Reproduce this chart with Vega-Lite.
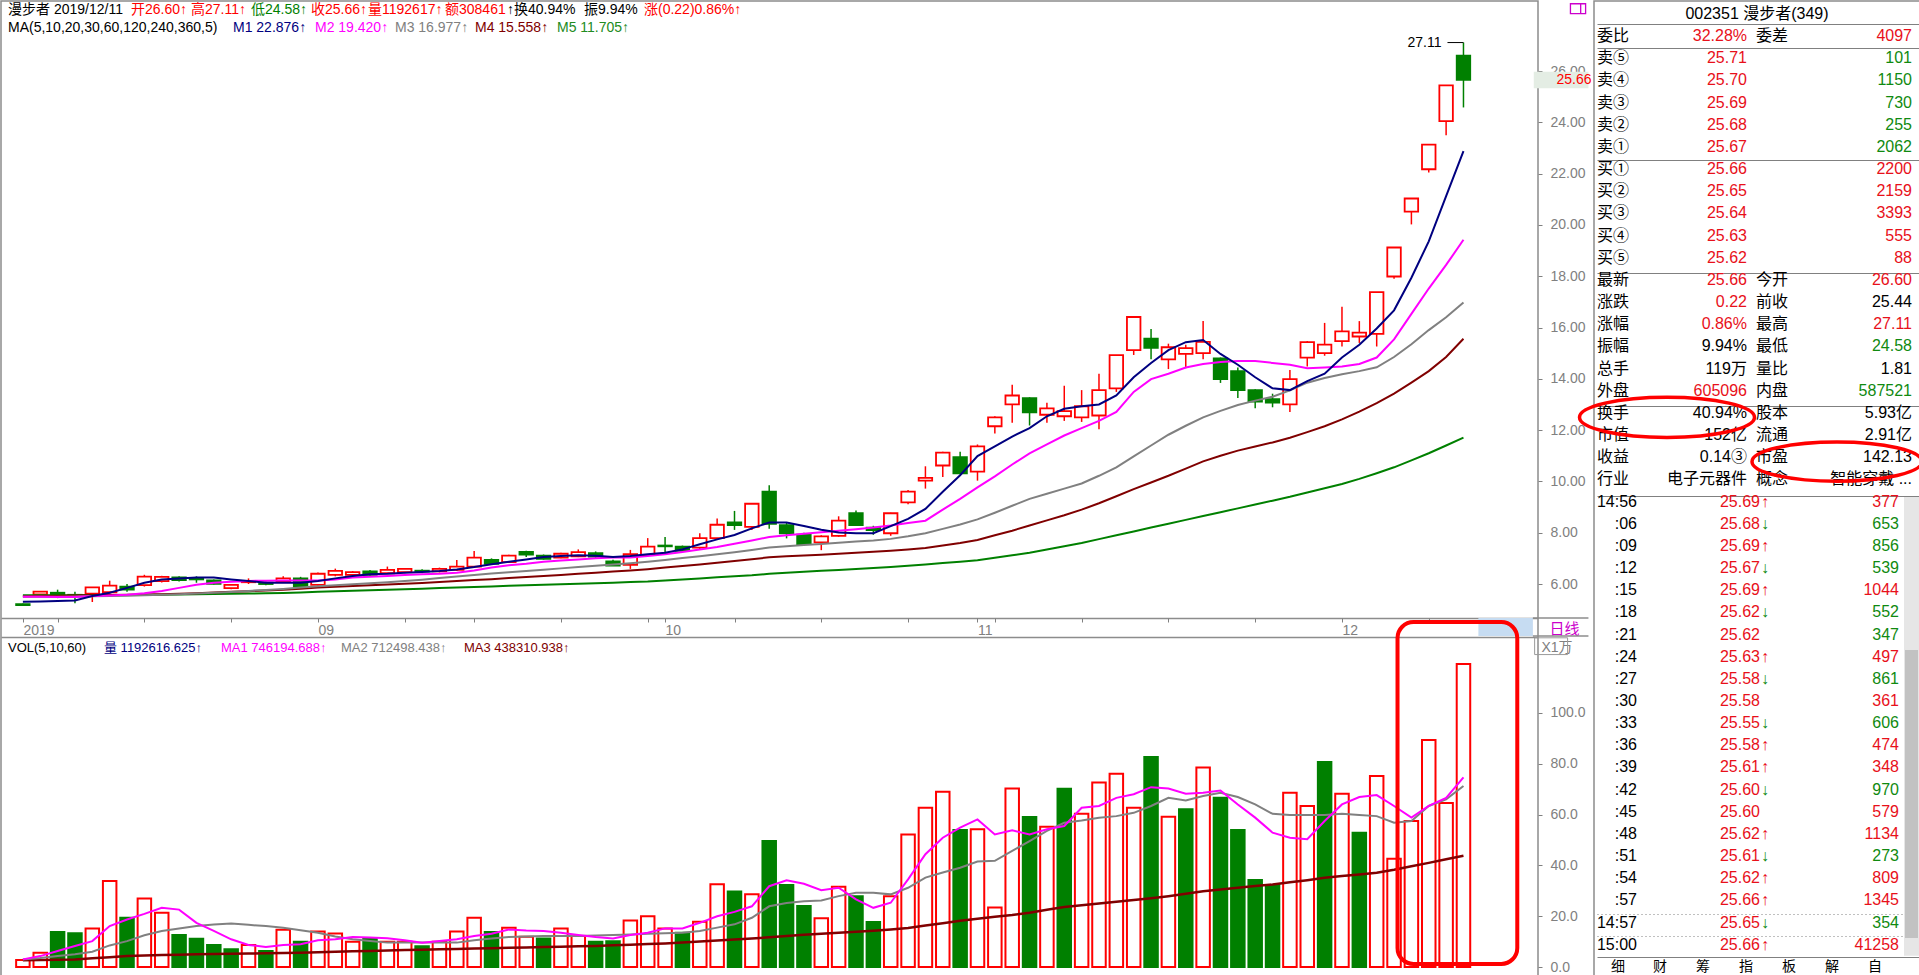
{
"$schema": "https://vega.github.io/schema/vega-lite/v6.json",
"padding": 0,
"background": "white",
"config": {"view": {"stroke": "#8c8c8c", "strokeWidth": 1.5}, "text": {"font": "Liberation Sans, Noto Sans CJK SC, sans-serif"}},
"datasets": {
"k": [
{"i":0,"d":"2019-08-08","o":5.22,"h":5.24,"l":5.15,"c":5.18,"u":"dn","v":2.8,"vu":"up","m5":5.31,"m10":5.50,"m20":5.50,"m30":5.52,"m60":5.56,"v5":3.0,"v10":3.0,"v60":2.7},
{"i":1,"d":"2019-08-09","o":5.60,"h":5.72,"l":5.55,"c":5.70,"u":"up","v":5.6,"vu":"up","m5":5.32,"m10":5.50,"m20":5.50,"m30":5.53,"m60":5.56,"v5":4.3,"v10":3.5,"v60":2.8},
{"i":2,"d":"2019-08-12","o":5.66,"h":5.78,"l":5.45,"c":5.60,"u":"dn","v":13.8,"vu":"dn","m5":5.34,"m10":5.49,"m20":5.50,"m30":5.54,"m60":5.56,"v5":6.3,"v10":4.3,"v60":2.9},
{"i":3,"d":"2019-08-13","o":5.58,"h":5.70,"l":5.25,"c":5.52,"u":"dn","v":13.3,"vu":"dn","m5":5.36,"m10":5.49,"m20":5.51,"m30":5.55,"m60":5.56,"v5":8.3,"v10":5.0,"v60":3.0},
{"i":4,"d":"2019-08-14","o":5.62,"h":5.87,"l":5.30,"c":5.87,"u":"up","v":15.2,"vu":"up","m5":5.53,"m10":5.53,"m20":5.52,"m30":5.56,"m60":5.57,"v5":10.2,"v10":6.0,"v60":3.4},
{"i":5,"d":"2019-08-15","o":5.68,"h":6.13,"l":5.62,"c":5.94,"u":"up","v":33.9,"vu":"up","m5":5.66,"m10":5.55,"m20":5.53,"m30":5.57,"m60":5.57,"v5":16.1,"v10":8.5,"v60":3.8},
{"i":6,"d":"2019-08-16","o":5.90,"h":6.00,"l":5.70,"c":5.78,"u":"dn","v":19.4,"vu":"dn","m5":5.85,"m10":5.58,"m20":5.54,"m30":5.58,"m60":5.57,"v5":18.7,"v10":10.2,"v60":4.3},
{"i":7,"d":"2019-08-19","o":5.96,"h":6.36,"l":5.90,"c":6.29,"u":"up","v":27.0,"vu":"up","m5":6.05,"m10":5.64,"m20":5.56,"m30":5.59,"m60":5.58,"v5":20.9,"v10":12.5,"v60":4.5},
{"i":8,"d":"2019-08-20","o":6.11,"h":6.32,"l":6.06,"c":6.28,"u":"up","v":21.4,"vu":"up","m5":6.18,"m10":5.73,"m20":5.58,"m30":5.60,"m60":5.58,"v5":23.3,"v10":14.2,"v60":4.7},
{"i":9,"d":"2019-08-21","o":6.26,"h":6.30,"l":6.10,"c":6.15,"u":"dn","v":12.6,"vu":"dn","m5":6.22,"m10":5.85,"m20":5.60,"m30":5.62,"m60":5.59,"v5":22.6,"v10":15.2,"v60":4.8},
{"i":10,"d":"2019-08-22","o":6.22,"h":6.30,"l":6.05,"c":6.18,"u":"dn","v":11.1,"vu":"dn","m5":6.25,"m10":5.97,"m20":5.63,"m30":5.64,"m60":5.60,"v5":17.4,"v10":16.1,"v60":5.0},
{"i":11,"d":"2019-08-23","o":6.14,"h":6.18,"l":5.98,"c":6.01,"u":"dn","v":8.7,"vu":"dn","m5":6.25,"m10":6.05,"m20":5.66,"m30":5.67,"m60":5.61,"v5":14.2,"v10":16.7,"v60":5.1},
{"i":12,"d":"2019-08-26","o":5.84,"h":6.00,"l":5.80,"c":5.97,"u":"up","v":7.0,"vu":"dn","m5":6.18,"m10":6.09,"m20":5.69,"m30":5.70,"m60":5.62,"v5":10.9,"v10":17.1,"v60":5.2},
{"i":13,"d":"2019-08-27","o":6.07,"h":6.22,"l":6.00,"c":6.11,"u":"up","v":8.7,"vu":"up","m5":6.12,"m10":6.12,"m20":5.73,"m30":5.72,"m60":5.63,"v5":8.7,"v10":16.6,"v60":5.3},
{"i":14,"d":"2019-08-28","o":6.05,"h":6.10,"l":5.95,"c":6.00,"u":"dn","v":6.3,"vu":"dn","m5":6.05,"m10":6.13,"m20":5.77,"m30":5.75,"m60":5.64,"v5":7.9,"v10":16.1,"v60":5.4},
{"i":15,"d":"2019-08-29","o":6.09,"h":6.30,"l":6.05,"c":6.22,"u":"up","v":14.7,"vu":"up","m5":6.05,"m10":6.14,"m20":5.81,"m30":5.78,"m60":5.65,"v5":8.7,"v10":15.5,"v60":5.5},
{"i":16,"d":"2019-08-30","o":6.22,"h":6.28,"l":5.87,"c":5.90,"u":"dn","v":9.9,"vu":"dn","m5":6.05,"m10":6.14,"m20":5.86,"m30":5.82,"m60":5.67,"v5":9.0,"v10":14.5,"v60":5.6},
{"i":17,"d":"2019-09-02","o":5.97,"h":6.45,"l":5.90,"c":6.40,"u":"up","v":14.0,"vu":"up","m5":6.12,"m10":6.14,"m20":5.91,"m30":5.86,"m60":5.70,"v5":10.5,"v10":13.5,"v60":5.8},
{"i":18,"d":"2019-09-03","o":6.36,"h":6.60,"l":6.30,"c":6.51,"u":"up","v":13.2,"vu":"up","m5":6.22,"m10":6.18,"m20":5.95,"m30":5.89,"m60":5.72,"v5":10.9,"v10":12.0,"v60":6.0},
{"i":19,"d":"2019-09-04","o":6.36,"h":6.50,"l":6.32,"c":6.46,"u":"up","v":9.9,"vu":"up","m5":6.31,"m10":6.25,"m20":5.99,"m30":5.92,"m60":5.74,"v5":11.8,"v10":10.9,"v60":6.2},
{"i":20,"d":"2019-09-05","o":6.49,"h":6.55,"l":6.30,"c":6.36,"u":"dn","v":11.0,"vu":"dn","m5":6.38,"m10":6.28,"m20":6.03,"m30":5.95,"m60":5.76,"v5":11.6,"v10":10.2,"v60":6.3},
{"i":21,"d":"2019-09-06","o":6.42,"h":6.68,"l":6.40,"c":6.55,"u":"up","v":9.9,"vu":"up","m5":6.40,"m10":6.31,"m20":6.07,"m30":5.98,"m60":5.78,"v5":11.3,"v10":9.6,"v60":6.5},
{"i":22,"d":"2019-09-09","o":6.46,"h":6.62,"l":6.42,"c":6.59,"u":"up","v":9.9,"vu":"up","m5":6.44,"m10":6.35,"m20":6.12,"m30":6.01,"m60":5.80,"v5":10.5,"v10":9.6,"v60":6.7},
{"i":23,"d":"2019-09-10","o":6.52,"h":6.58,"l":6.42,"c":6.49,"u":"dn","v":8.2,"vu":"dn","m5":6.47,"m10":6.38,"m20":6.17,"m30":6.04,"m60":5.82,"v5":9.6,"v10":9.6,"v60":6.8},
{"i":24,"d":"2019-09-11","o":6.49,"h":6.64,"l":6.45,"c":6.59,"u":"up","v":9.9,"vu":"up","m5":6.51,"m10":6.40,"m20":6.23,"m30":6.08,"m60":5.84,"v5":10.2,"v10":9.6,"v60":7.0},
{"i":25,"d":"2019-09-12","o":6.55,"h":6.94,"l":6.51,"c":6.68,"u":"up","v":14.0,"vu":"up","m5":6.57,"m10":6.44,"m20":6.29,"m30":6.12,"m60":5.86,"v5":10.9,"v10":9.6,"v60":7.1},
{"i":26,"d":"2019-09-16","o":6.68,"h":7.29,"l":6.64,"c":7.03,"u":"up","v":19.4,"vu":"up","m5":6.66,"m10":6.53,"m20":6.35,"m30":6.16,"m60":5.88,"v5":12.2,"v10":10.5,"v60":7.3},
{"i":27,"d":"2019-09-17","o":6.94,"h":7.00,"l":6.75,"c":6.79,"u":"dn","v":13.8,"vu":"dn","m5":6.77,"m10":6.64,"m20":6.41,"m30":6.19,"m60":5.90,"v5":13.1,"v10":11.2,"v60":7.4},
{"i":28,"d":"2019-09-18","o":6.85,"h":7.14,"l":6.82,"c":7.11,"u":"up","v":15.5,"vu":"up","m5":6.87,"m10":6.73,"m20":6.46,"m30":6.23,"m60":5.93,"v5":14.8,"v10":11.8,"v60":7.55},
{"i":29,"d":"2019-09-19","o":7.25,"h":7.30,"l":7.05,"c":7.15,"u":"dn","v":11.9,"vu":"up","m5":6.96,"m10":6.79,"m20":6.51,"m30":6.27,"m60":5.95,"v5":14.4,"v10":12.0,"v60":7.7},
{"i":30,"d":"2019-09-20","o":7.11,"h":7.15,"l":6.95,"c":6.98,"u":"dn","v":11.2,"vu":"dn","m5":7.05,"m10":6.87,"m20":6.56,"m30":6.31,"m60":5.97,"v5":14.2,"v10":12.2,"v60":7.85},
{"i":31,"d":"2019-09-23","o":7.03,"h":7.22,"l":7.00,"c":7.18,"u":"up","v":15.2,"vu":"up","m5":7.09,"m10":6.92,"m20":6.61,"m30":6.35,"m60":5.99,"v5":13.5,"v10":12.2,"v60":8.0},
{"i":32,"d":"2019-09-24","o":7.08,"h":7.35,"l":7.05,"c":7.24,"u":"up","v":12.2,"vu":"up","m5":7.12,"m10":6.96,"m20":6.66,"m30":6.40,"m60":6.01,"v5":12.6,"v10":12.2,"v60":8.15},
{"i":33,"d":"2019-09-25","o":7.20,"h":7.27,"l":7.02,"c":7.07,"u":"dn","v":9.9,"vu":"dn","m5":7.10,"m10":7.00,"m20":6.71,"m30":6.44,"m60":6.03,"v5":11.8,"v10":12.4,"v60":8.3},
{"i":34,"d":"2019-09-26","o":6.88,"h":6.95,"l":6.70,"c":6.72,"u":"dn","v":10.1,"vu":"dn","m5":7.05,"m10":7.03,"m20":6.76,"m30":6.49,"m60":6.05,"v5":11.2,"v10":12.6,"v60":8.55},
{"i":35,"d":"2019-09-27","o":6.75,"h":7.33,"l":6.59,"c":7.16,"u":"up","v":18.3,"vu":"up","m5":7.09,"m10":7.03,"m20":6.81,"m30":6.53,"m60":6.08,"v5":12.6,"v10":12.8,"v60":8.8},
{"i":36,"d":"2019-09-30","o":7.14,"h":7.79,"l":7.10,"c":7.46,"u":"up","v":20.0,"vu":"up","m5":7.16,"m10":7.09,"m20":6.87,"m30":6.58,"m60":6.10,"v5":13.5,"v10":13.1,"v60":9.05},
{"i":37,"d":"2019-10-08","o":7.50,"h":7.83,"l":7.20,"c":7.47,"u":"dn","v":15.2,"vu":"up","m5":7.22,"m10":7.16,"m20":6.94,"m30":6.64,"m60":6.14,"v5":15.2,"v10":13.3,"v60":9.3},
{"i":38,"d":"2019-10-09","o":7.46,"h":7.50,"l":7.25,"c":7.29,"u":"dn","v":13.5,"vu":"dn","m5":7.35,"m10":7.25,"m20":7.01,"m30":6.70,"m60":6.18,"v5":15.2,"v10":13.5,"v60":9.6},
{"i":39,"d":"2019-10-10","o":7.42,"h":7.98,"l":7.33,"c":7.79,"u":"up","v":17.8,"vu":"up","m5":7.55,"m10":7.35,"m20":7.08,"m30":6.76,"m60":6.22,"v5":17.4,"v10":14.2,"v60":10.0},
{"i":40,"d":"2019-10-11","o":7.79,"h":8.55,"l":7.72,"c":8.31,"u":"up","v":32.6,"vu":"up","m5":7.74,"m10":7.44,"m20":7.16,"m30":6.83,"m60":6.26,"v5":20.0,"v10":15.5,"v60":10.4},
{"i":41,"d":"2019-10-14","o":8.40,"h":8.85,"l":8.11,"c":8.30,"u":"dn","v":29.7,"vu":"dn","m5":7.91,"m10":7.57,"m20":7.24,"m30":6.90,"m60":6.30,"v5":21.7,"v10":16.8,"v60":10.8},
{"i":42,"d":"2019-10-15","o":8.23,"h":9.13,"l":8.11,"c":9.13,"u":"up","v":28.6,"vu":"up","m5":8.17,"m10":7.70,"m20":7.33,"m30":6.97,"m60":6.34,"v5":23.9,"v10":19.4,"v60":11.2},
{"i":43,"d":"2019-10-16","o":9.60,"h":9.85,"l":8.15,"c":8.35,"u":"dn","v":49.6,"vu":"dn","m5":8.40,"m10":7.83,"m20":7.42,"m30":7.04,"m60":6.40,"v5":31.8,"v10":23.9,"v60":11.7},
{"i":44,"d":"2019-10-17","o":8.30,"h":8.40,"l":7.78,"c":7.98,"u":"dn","v":32.3,"vu":"dn","m5":8.40,"m10":7.90,"m20":7.47,"m30":7.08,"m60":6.44,"v5":34.1,"v10":25.2,"v60":12.2},
{"i":45,"d":"2019-10-18","o":7.92,"h":8.00,"l":7.52,"c":7.56,"u":"dn","v":24.0,"vu":"dn","m5":8.26,"m10":7.96,"m20":7.52,"m30":7.11,"m60":6.48,"v5":32.8,"v10":25.9,"v60":12.7},
{"i":46,"d":"2019-10-21","o":7.62,"h":7.90,"l":7.32,"c":7.86,"u":"up","v":19.2,"vu":"up","m5":8.12,"m10":8.02,"m20":7.56,"m30":7.14,"m60":6.52,"v5":30.2,"v10":26.2,"v60":13.1},
{"i":47,"d":"2019-10-22","o":7.88,"h":8.64,"l":7.84,"c":8.47,"u":"up","v":31.6,"vu":"up","m5":8.01,"m10":8.08,"m20":7.61,"m30":7.18,"m60":6.55,"v5":31.2,"v10":27.9,"v60":13.5},
{"i":48,"d":"2019-10-23","o":8.76,"h":8.87,"l":8.26,"c":8.30,"u":"dn","v":27.9,"vu":"dn","m5":7.98,"m10":8.14,"m20":7.66,"m30":7.22,"m60":6.59,"v5":26.6,"v10":29.2,"v60":13.9},
{"i":49,"d":"2019-10-24","o":8.20,"h":8.27,"l":7.92,"c":8.10,"u":"dn","v":17.7,"vu":"dn","m5":7.98,"m10":8.20,"m20":7.70,"m30":7.26,"m60":6.62,"v5":23.3,"v10":29.2,"v60":14.3},
{"i":50,"d":"2019-10-25","o":7.98,"h":8.78,"l":7.88,"c":8.76,"u":"up","v":27.9,"vu":"up","m5":8.26,"m10":8.28,"m20":7.76,"m30":7.30,"m60":6.66,"v5":25.3,"v10":28.6,"v60":14.8},
{"i":51,"d":"2019-10-28","o":9.18,"h":9.67,"l":9.11,"c":9.60,"u":"up","v":52.2,"vu":"up","m5":8.54,"m10":8.38,"m20":7.86,"m30":7.35,"m60":6.71,"v5":34.5,"v10":31.2,"v60":15.4},
{"i":52,"d":"2019-10-29","o":10.03,"h":10.59,"l":9.72,"c":10.14,"u":"up","v":62.7,"vu":"up","m5":8.93,"m10":8.47,"m20":7.98,"m30":7.40,"m60":6.76,"v5":44.4,"v10":35.2,"v60":16.3},
{"i":53,"d":"2019-10-30","o":10.62,"h":11.16,"l":10.17,"c":11.12,"u":"up","v":69.0,"vu":"up","m5":9.60,"m10":8.90,"m20":8.15,"m30":7.50,"m60":6.82,"v5":50.9,"v10":37.2,"v60":17.2},
{"i":54,"d":"2019-10-31","o":10.95,"h":11.16,"l":10.28,"c":10.31,"u":"dn","v":53.9,"vu":"dn","m5":10.24,"m10":9.32,"m20":8.32,"m30":7.60,"m60":6.87,"v5":54.9,"v10":39.1,"v60":18.2},
{"i":55,"d":"2019-11-01","o":10.38,"h":11.44,"l":10.03,"c":11.37,"u":"up","v":54.2,"vu":"up","m5":10.99,"m10":9.77,"m20":8.52,"m30":7.72,"m60":6.93,"v5":58.1,"v10":41.5,"v60":19.0},
{"i":56,"d":"2019-11-04","o":12.15,"h":12.54,"l":11.87,"c":12.50,"u":"up","v":23.4,"vu":"up","m5":11.37,"m10":10.20,"m20":8.78,"m30":7.90,"m60":7.02,"v5":52.2,"v10":41.8,"v60":19.8},
{"i":57,"d":"2019-11-05","o":13.00,"h":13.77,"l":12.29,"c":13.35,"u":"up","v":70.3,"vu":"up","m5":11.75,"m10":10.66,"m20":9.05,"m30":8.08,"m60":7.12,"v5":53.8,"v10":45.7,"v60":20.5},
{"i":58,"d":"2019-11-06","o":13.25,"h":13.28,"l":12.18,"c":12.69,"u":"dn","v":59.1,"vu":"dn","m5":12.08,"m10":11.09,"m20":9.32,"m30":8.28,"m60":7.22,"v5":52.2,"v10":49.6,"v60":21.4},
{"i":59,"d":"2019-11-07","o":12.60,"h":13.07,"l":12.29,"c":12.85,"u":"up","v":55.2,"vu":"up","m5":12.54,"m10":11.44,"m20":9.52,"m30":8.48,"m60":7.35,"v5":54.2,"v10":53.6,"v60":22.5},
{"i":60,"d":"2019-11-08","o":12.54,"h":13.73,"l":12.36,"c":12.74,"u":"up","v":70.2,"vu":"dn","m5":12.83,"m10":11.79,"m20":9.72,"m30":8.68,"m60":7.47,"v5":55.5,"v10":56.8,"v60":23.6},
{"i":61,"d":"2019-11-11","o":12.50,"h":13.56,"l":12.32,"c":12.93,"u":"up","v":60.3,"vu":"up","m5":12.93,"m10":12.08,"m20":9.92,"m30":8.90,"m60":7.60,"v5":62.7,"v10":57.7,"v60":24.3},
{"i":62,"d":"2019-11-12","o":12.57,"h":14.20,"l":12.03,"c":13.56,"u":"up","v":72.6,"vu":"up","m5":13.00,"m10":12.36,"m20":10.22,"m30":9.15,"m60":7.75,"v5":63.4,"v10":58.8,"v60":25.0},
{"i":63,"d":"2019-11-13","o":13.63,"h":14.92,"l":13.49,"c":14.92,"u":"up","v":76.1,"vu":"up","m5":13.35,"m10":12.71,"m20":10.55,"m30":9.42,"m60":7.90,"v5":66.6,"v10":59.4,"v60":25.7},
{"i":64,"d":"2019-11-14","o":15.12,"h":16.41,"l":14.93,"c":16.41,"u":"up","v":62.7,"vu":"up","m5":14.06,"m10":13.49,"m20":10.98,"m30":9.70,"m60":8.05,"v5":68.0,"v10":60.7,"v60":26.4},
{"i":65,"d":"2019-11-15","o":15.57,"h":15.94,"l":14.76,"c":15.21,"u":"dn","v":82.7,"vu":"dn","m5":14.62,"m10":13.99,"m20":11.40,"m30":9.96,"m60":8.20,"v5":70.8,"v10":63.4,"v60":27.1},
{"i":66,"d":"2019-11-18","o":14.76,"h":15.37,"l":14.38,"c":15.23,"u":"up","v":59.2,"vu":"up","m5":15.12,"m10":14.20,"m20":11.82,"m30":10.22,"m60":8.35,"v5":70.3,"v10":66.6,"v60":27.9},
{"i":67,"d":"2019-11-19","o":14.97,"h":15.33,"l":14.41,"c":15.20,"u":"up","v":62.1,"vu":"dn","m5":15.43,"m10":14.44,"m20":12.17,"m30":10.50,"m60":8.50,"v5":68.2,"v10":65.6,"v60":28.8},
{"i":68,"d":"2019-11-20","o":15.00,"h":16.25,"l":14.76,"c":15.44,"u":"up","v":78.5,"vu":"up","m5":15.51,"m10":14.58,"m20":12.50,"m30":10.78,"m60":8.65,"v5":68.6,"v10":67.3,"v60":29.8},
{"i":69,"d":"2019-11-21","o":14.80,"h":14.83,"l":13.84,"c":13.99,"u":"dn","v":66.6,"vu":"dn","m5":14.97,"m10":14.66,"m20":12.75,"m30":11.00,"m60":8.80,"v5":69.5,"v10":68.6,"v60":30.5},
{"i":70,"d":"2019-11-22","o":14.30,"h":14.44,"l":13.25,"c":13.56,"u":"dn","v":53.9,"vu":"dn","m5":14.55,"m10":14.69,"m20":12.98,"m30":11.20,"m60":8.95,"v5":64.0,"v10":66.9,"v60":31.2},
{"i":71,"d":"2019-11-25","o":13.56,"h":13.59,"l":12.85,"c":13.11,"u":"dn","v":34.3,"vu":"dn","m5":14.06,"m10":14.69,"m20":13.15,"m30":11.36,"m60":9.10,"v5":58.8,"v10":64.0,"v60":31.9},
{"i":72,"d":"2019-11-26","o":13.21,"h":13.42,"l":12.89,"c":13.07,"u":"dn","v":32.3,"vu":"dn","m5":13.63,"m10":14.62,"m20":13.30,"m30":11.52,"m60":9.25,"v5":52.9,"v10":60.3,"v60":32.5},
{"i":73,"d":"2019-11-27","o":13.00,"h":14.34,"l":12.71,"c":13.99,"u":"up","v":68.6,"vu":"up","m5":13.56,"m10":14.55,"m20":13.55,"m30":11.70,"m60":9.40,"v5":50.9,"v10":59.8,"v60":33.4},
{"i":74,"d":"2019-11-28","o":14.83,"h":15.47,"l":14.48,"c":15.43,"u":"up","v":63.4,"vu":"up","m5":13.91,"m10":14.41,"m20":13.85,"m30":11.92,"m60":9.57,"v5":50.3,"v10":59.8,"v60":34.2},
{"i":75,"d":"2019-11-29","o":15.00,"h":16.18,"l":14.90,"c":15.33,"u":"up","v":80.7,"vu":"dn","m5":14.20,"m10":14.44,"m20":14.03,"m30":12.15,"m60":9.73,"v5":57.5,"v10":59.8,"v60":35.1},
{"i":76,"d":"2019-12-02","o":15.47,"h":16.81,"l":15.26,"c":15.85,"u":"up","v":68.2,"vu":"up","m5":14.83,"m10":14.48,"m20":14.18,"m30":12.42,"m60":9.90,"v5":64.0,"v10":60.3,"v60":35.8},
{"i":77,"d":"2019-12-03","o":15.65,"h":16.25,"l":15.40,"c":15.80,"u":"up","v":52.9,"vu":"dn","m5":15.33,"m10":14.58,"m20":14.30,"m30":12.72,"m60":10.10,"v5":66.9,"v10":59.8,"v60":36.4},
{"i":78,"d":"2019-12-04","o":15.75,"h":17.38,"l":15.26,"c":17.38,"u":"up","v":75.2,"vu":"up","m5":15.96,"m10":14.83,"m20":14.45,"m30":13.05,"m60":10.32,"v5":67.7,"v10":59.4,"v60":37.1},
{"i":79,"d":"2019-12-05","o":17.99,"h":19.12,"l":17.90,"c":19.12,"u":"up","v":42.6,"vu":"up","m5":16.67,"m10":15.54,"m20":14.85,"m30":13.42,"m60":10.55,"v5":63.4,"v10":56.8,"v60":38.3},
{"i":80,"d":"2019-12-06","o":20.52,"h":21.03,"l":20.02,"c":21.03,"u":"up","v":57.5,"vu":"up","m5":17.94,"m10":16.53,"m20":15.35,"m30":13.85,"m60":10.82,"v5":58.8,"v10":57.5,"v60":39.7},
{"i":81,"d":"2019-12-09","o":22.17,"h":23.13,"l":22.04,"c":23.13,"u":"up","v":89.4,"vu":"up","m5":19.36,"m10":17.52,"m20":15.90,"m30":14.30,"m60":11.10,"v5":63.4,"v10":63.4,"v60":41.0},
{"i":82,"d":"2019-12-10","o":24.05,"h":25.44,"l":23.50,"c":25.44,"u":"up","v":64.6,"vu":"up","m5":21.12,"m10":18.44,"m20":16.40,"m30":14.85,"m60":11.40,"v5":66.6,"v10":66.0,"v60":42.4},
{"i":83,"d":"2019-12-11","o":26.60,"h":27.11,"l":24.58,"c":25.66,"u":"dn","v":119.26,"vu":"up","m5":22.88,"m10":19.42,"m20":16.98,"m30":15.56,"m60":11.71,"v5":74.62,"v10":71.25,"v60":43.83}
],
"panel": [
{"r":0,"c":8,"t":"002351 漫步者(349)","k":"b"},
{"r":1,"c":0,"t":"委比","k":"b"},{"r":1,"c":1,"t":"32.28%","k":"r"},{"r":1,"c":2,"t":"委差","k":"b"},{"r":1,"c":3,"t":"4097","k":"r"},
{"r":2,"c":0,"t":"卖⑤","k":"b"},{"r":2,"c":1,"t":"25.71","k":"r"},{"r":2,"c":3,"t":"101","k":"g"},
{"r":3,"c":0,"t":"卖④","k":"b"},{"r":3,"c":1,"t":"25.70","k":"r"},{"r":3,"c":3,"t":"1150","k":"g"},
{"r":4,"c":0,"t":"卖③","k":"b"},{"r":4,"c":1,"t":"25.69","k":"r"},{"r":4,"c":3,"t":"730","k":"g"},
{"r":5,"c":0,"t":"卖②","k":"b"},{"r":5,"c":1,"t":"25.68","k":"r"},{"r":5,"c":3,"t":"255","k":"g"},
{"r":6,"c":0,"t":"卖①","k":"b"},{"r":6,"c":1,"t":"25.67","k":"r"},{"r":6,"c":3,"t":"2062","k":"g"},
{"r":7,"c":0,"t":"买①","k":"b"},{"r":7,"c":1,"t":"25.66","k":"r"},{"r":7,"c":3,"t":"2200","k":"r"},
{"r":8,"c":0,"t":"买②","k":"b"},{"r":8,"c":1,"t":"25.65","k":"r"},{"r":8,"c":3,"t":"2159","k":"r"},
{"r":9,"c":0,"t":"买③","k":"b"},{"r":9,"c":1,"t":"25.64","k":"r"},{"r":9,"c":3,"t":"3393","k":"r"},
{"r":10,"c":0,"t":"买④","k":"b"},{"r":10,"c":1,"t":"25.63","k":"r"},{"r":10,"c":3,"t":"555","k":"r"},
{"r":11,"c":0,"t":"买⑤","k":"b"},{"r":11,"c":1,"t":"25.62","k":"r"},{"r":11,"c":3,"t":"88","k":"r"},
{"r":12,"c":0,"t":"最新","k":"b"},{"r":12,"c":1,"t":"25.66","k":"r"},{"r":12,"c":2,"t":"今开","k":"b"},{"r":12,"c":3,"t":"26.60","k":"r"},
{"r":13,"c":0,"t":"涨跌","k":"b"},{"r":13,"c":1,"t":"0.22","k":"r"},{"r":13,"c":2,"t":"前收","k":"b"},{"r":13,"c":3,"t":"25.44","k":"b"},
{"r":14,"c":0,"t":"涨幅","k":"b"},{"r":14,"c":1,"t":"0.86%","k":"r"},{"r":14,"c":2,"t":"最高","k":"b"},{"r":14,"c":3,"t":"27.11","k":"r"},
{"r":15,"c":0,"t":"振幅","k":"b"},{"r":15,"c":1,"t":"9.94%","k":"b"},{"r":15,"c":2,"t":"最低","k":"b"},{"r":15,"c":3,"t":"24.58","k":"g"},
{"r":16,"c":0,"t":"总手","k":"b"},{"r":16,"c":1,"t":"119万","k":"b"},{"r":16,"c":2,"t":"量比","k":"b"},{"r":16,"c":3,"t":"1.81","k":"b"},
{"r":17,"c":0,"t":"外盘","k":"b"},{"r":17,"c":1,"t":"605096","k":"r"},{"r":17,"c":2,"t":"内盘","k":"b"},{"r":17,"c":3,"t":"587521","k":"g"},
{"r":18,"c":0,"t":"换手","k":"b"},{"r":18,"c":1,"t":"40.94%","k":"b"},{"r":18,"c":2,"t":"股本","k":"b"},{"r":18,"c":3,"t":"5.93亿","k":"b"},
{"r":19,"c":0,"t":"市值","k":"b"},{"r":19,"c":1,"t":"152亿","k":"b"},{"r":19,"c":2,"t":"流通","k":"b"},{"r":19,"c":3,"t":"2.91亿","k":"b"},
{"r":20,"c":0,"t":"收益","k":"b"},{"r":20,"c":1,"t":"0.14③","k":"b"},{"r":20,"c":2,"t":"市盈","k":"b"},{"r":20,"c":3,"t":"142.13","k":"b"},
{"r":21,"c":0,"t":"行业","k":"b"},{"r":21,"c":1,"t":"电子元器件","k":"b"},{"r":21,"c":2,"t":"概念","k":"b"},{"r":21,"c":3,"t":"智能穿戴 ...","k":"b"},
{"r":22,"c":4,"t":"14:56","k":"b"},{"r":22,"c":5,"t":"25.69","k":"r"},{"r":22,"c":6,"t":"↑","k":"r"},{"r":22,"c":7,"t":"377","k":"r"},
{"r":23,"c":4,"t":":06","k":"b"},{"r":23,"c":5,"t":"25.68","k":"r"},{"r":23,"c":6,"t":"↓","k":"g"},{"r":23,"c":7,"t":"653","k":"g"},
{"r":24,"c":4,"t":":09","k":"b"},{"r":24,"c":5,"t":"25.69","k":"r"},{"r":24,"c":6,"t":"↑","k":"r"},{"r":24,"c":7,"t":"856","k":"g"},
{"r":25,"c":4,"t":":12","k":"b"},{"r":25,"c":5,"t":"25.67","k":"r"},{"r":25,"c":6,"t":"↓","k":"g"},{"r":25,"c":7,"t":"539","k":"g"},
{"r":26,"c":4,"t":":15","k":"b"},{"r":26,"c":5,"t":"25.69","k":"r"},{"r":26,"c":6,"t":"↑","k":"r"},{"r":26,"c":7,"t":"1044","k":"r"},
{"r":27,"c":4,"t":":18","k":"b"},{"r":27,"c":5,"t":"25.62","k":"r"},{"r":27,"c":6,"t":"↓","k":"g"},{"r":27,"c":7,"t":"552","k":"g"},
{"r":28,"c":4,"t":":21","k":"b"},{"r":28,"c":5,"t":"25.62","k":"r"},{"r":28,"c":7,"t":"347","k":"g"},
{"r":29,"c":4,"t":":24","k":"b"},{"r":29,"c":5,"t":"25.63","k":"r"},{"r":29,"c":6,"t":"↑","k":"r"},{"r":29,"c":7,"t":"497","k":"r"},
{"r":30,"c":4,"t":":27","k":"b"},{"r":30,"c":5,"t":"25.58","k":"r"},{"r":30,"c":6,"t":"↓","k":"g"},{"r":30,"c":7,"t":"861","k":"g"},
{"r":31,"c":4,"t":":30","k":"b"},{"r":31,"c":5,"t":"25.58","k":"r"},{"r":31,"c":7,"t":"361","k":"r"},
{"r":32,"c":4,"t":":33","k":"b"},{"r":32,"c":5,"t":"25.55","k":"r"},{"r":32,"c":6,"t":"↓","k":"g"},{"r":32,"c":7,"t":"606","k":"g"},
{"r":33,"c":4,"t":":36","k":"b"},{"r":33,"c":5,"t":"25.58","k":"r"},{"r":33,"c":6,"t":"↑","k":"r"},{"r":33,"c":7,"t":"474","k":"r"},
{"r":34,"c":4,"t":":39","k":"b"},{"r":34,"c":5,"t":"25.61","k":"r"},{"r":34,"c":6,"t":"↑","k":"r"},{"r":34,"c":7,"t":"348","k":"r"},
{"r":35,"c":4,"t":":42","k":"b"},{"r":35,"c":5,"t":"25.60","k":"r"},{"r":35,"c":6,"t":"↓","k":"g"},{"r":35,"c":7,"t":"970","k":"g"},
{"r":36,"c":4,"t":":45","k":"b"},{"r":36,"c":5,"t":"25.60","k":"r"},{"r":36,"c":7,"t":"579","k":"r"},
{"r":37,"c":4,"t":":48","k":"b"},{"r":37,"c":5,"t":"25.62","k":"r"},{"r":37,"c":6,"t":"↑","k":"r"},{"r":37,"c":7,"t":"1134","k":"r"},
{"r":38,"c":4,"t":":51","k":"b"},{"r":38,"c":5,"t":"25.61","k":"r"},{"r":38,"c":6,"t":"↓","k":"g"},{"r":38,"c":7,"t":"273","k":"g"},
{"r":39,"c":4,"t":":54","k":"b"},{"r":39,"c":5,"t":"25.62","k":"r"},{"r":39,"c":6,"t":"↑","k":"r"},{"r":39,"c":7,"t":"809","k":"r"},
{"r":40,"c":4,"t":":57","k":"b"},{"r":40,"c":5,"t":"25.66","k":"r"},{"r":40,"c":6,"t":"↑","k":"r"},{"r":40,"c":7,"t":"1345","k":"r"},
{"r":41,"c":4,"t":"14:57","k":"b"},{"r":41,"c":5,"t":"25.65","k":"r"},{"r":41,"c":6,"t":"↓","k":"g"},{"r":41,"c":7,"t":"354","k":"g"},
{"r":42,"c":4,"t":"15:00","k":"b"},{"r":42,"c":5,"t":"25.66","k":"r"},{"r":42,"c":6,"t":"↑","k":"r"},{"r":42,"c":7,"t":"41258","k":"r"},
{"r":43,"c":9,"t":"细","k":"b"},{"r":43,"c":10,"t":"财","k":"b"},{"r":43,"c":11,"t":"筹","k":"b"},{"r":43,"c":12,"t":"指","k":"b"},{"r":43,"c":13,"t":"板","k":"b"},{"r":43,"c":14,"t":"解","k":"b"},{"r":43,"c":15,"t":"自","k":"b"}
]
},
"hconcat": [
{
"width": 1537, "height": 975,
"data": {"name": "k"},
"encoding": {"x": {"field": "i", "type": "quantitative", "scale": {"domain": [-0.973, 87.006], "nice": false, "zero": false},
 "axis": {"orient": "bottom", "offset": -358, "values": [0,2,7,12,17,22,26,31,36,37,41,46,51,55,56,61,66,71,76,81,86],
  "labelExpr": "datum.value==0?'2019':datum.value==17?'09':datum.value==37?'10':datum.value==55?'11':datum.value==76?'12':''",
  "labelAlign": "left", "labelBaseline": "top", "labelPadding": 1, "labelDx": 2, "labelColor": "#808080", "labelFontSize": 14,
  "labelFont": "Liberation Sans", "labelOverlap": false, "labelFlush": false, "labelBound": false,
  "tickColor": "#808080", "tickSize": 4, "domain": false, "grid": false,
  "title": "日线", "titleX": 1563, "titleY": 10, "titleAlign": "center", "titleBaseline": "middle", "titleColor": "#cc00cc",
  "titleFontSize": 15, "titleFontWeight": "normal", "titleFont": "Noto Sans CJK SC"}}},
"layer": [
{"transform": [{"filter": "datum.i == 0"}], "mark": {"type": "rect", "color": "#c6dcf2"},
 "encoding": {"x": {"datum": 83.86, "type": "quantitative"}, "x2": {"datum": 87.0},
  "y": {"datum": 4.674, "type": "quantitative", "scale": {"domain": [-9.282, 28.73], "nice": false, "zero": false},
   "axis": {"orient": "left", "values": [4.674], "grid": true, "gridColor": "#8c8c8c", "gridWidth": 1.5, "labels": false, "ticks": false, "domain": false, "title": null}},
  "y2": {"datum": 3.97}}},
{"transform": [{"filter": "datum.i == 0"}], "mark": {"type": "rule", "color": "#8c8c8c", "strokeWidth": 1.5},
 "encoding": {"x": {"datum": 87.0, "type": "quantitative"}, "x2": {"datum": 90.2},
  "y": {"datum": 4.674, "type": "quantitative", "scale": {"domain": [-9.282, 28.73], "nice": false, "zero": false}, "axis": null}}},
{"transform": [{"filter": "datum.i == 0"}], "mark": {"type": "rule", "color": "#8c8c8c", "strokeWidth": 1.5},
 "encoding": {"x": {"datum": 87.0, "type": "quantitative"}, "x2": {"datum": 90.2},
  "y": {"datum": 3.97, "type": "quantitative", "scale": {"domain": [-9.282, 28.73], "nice": false, "zero": false}, "axis": null}}},
{"transform": [{"filter": "datum.i == 0"}], "mark": {"type": "rect", "color": "#e4ede4"},
 "encoding": {"x": {"datum": 87.05, "type": "quantitative"}, "x2": {"datum": 90.2},
  "y": {"datum": 25.97, "type": "quantitative", "scale": {"domain": [-9.282, 28.73], "nice": false, "zero": false}, "axis": null},
  "y2": {"datum": 25.33}}},
{"transform": [{"filter": "datum.i == 0"}], "mark": {"type": "point", "shape": "M -1 -0.65 H 1 V 0.65 H -1 Z M 0.35 -0.65 V 0.65", "size": 230, "filled": false, "stroke": "#cc00cc", "strokeWidth": 1.3, "opacity": 1},
 "encoding": {"x": {"datum": 89.6, "type": "quantitative"}, "y": {"datum": 28.43, "type": "quantitative", "scale": {"domain": [-9.282, 28.73], "nice": false, "zero": false}, "axis": null}}},
{"mark": {"type": "rule", "strokeWidth": 1.5},
 "encoding": {"y": {"field": "l", "type": "quantitative", "scale": {"domain": [-9.282, 28.73], "nice": false, "zero": false},
   "axis": {"orient": "right", "values": [6,8,10,12,14,16,18,20,22,24,26], "format": ".2f", "labelColor": "#808080", "labelFontSize": 14, "labelFont": "Liberation Sans",
   "tickColor": "#808080", "tickSize": 4, "labelPadding": 8, "domain": false, "grid": false, "title": null, "labelBaseline": "middle"}},
  "y2": {"field": "h"},
  "color": {"field": "u", "type": "nominal", "scale": {"domain": ["up", "dn"], "range": ["#ff0000", "#008000"]}, "legend": null}}},
{"mark": {"type": "bar", "size": 13.5, "strokeWidth": 1.8, "orient": "vertical"},
 "encoding": {"y": {"field": "o", "type": "quantitative", "scale": {"domain": [-9.282, 28.73], "nice": false, "zero": false}, "axis": null},
  "y2": {"field": "c"},
  "fill": {"field": "u", "type": "nominal", "scale": {"domain": ["up", "dn"], "range": ["#ffffff", "#008000"]}, "legend": null},
  "stroke": {"field": "u", "type": "nominal", "scale": {"domain": ["up", "dn"], "range": ["#ff0000", "#008000"]}, "legend": null}}},
{"mark": {"type": "line", "color": "#008000", "strokeWidth": 2},
 "encoding": {"y": {"field": "m60", "type": "quantitative", "scale": {"domain": [-9.282, 28.73], "nice": false, "zero": false},
  "axis": {"orient": "right", "values": [25.66], "format": ".2f", "labelColor": "#ff0000", "labelFontSize": 14, "labelFont": "Liberation Sans", "ticks": false, "domain": false, "grid": false, "title": null, "labelPadding": 18, "labelBaseline": "middle", "zindex": 1}}}},
{"mark": {"type": "line", "color": "#800000", "strokeWidth": 2},
 "encoding": {"y": {"field": "m30", "type": "quantitative", "scale": {"domain": [-9.282, 28.73], "nice": false, "zero": false}, "axis": null}}},
{"mark": {"type": "line", "color": "#808080", "strokeWidth": 2},
 "encoding": {"y": {"field": "m20", "type": "quantitative", "scale": {"domain": [-9.282, 28.73], "nice": false, "zero": false}, "axis": null}}},
{"mark": {"type": "line", "color": "#ff00ff", "strokeWidth": 2},
 "encoding": {"y": {"field": "m10", "type": "quantitative", "scale": {"domain": [-9.282, 28.73], "nice": false, "zero": false}, "axis": null}}},
{"mark": {"type": "line", "color": "#000080", "strokeWidth": 2},
 "encoding": {"y": {"field": "m5", "type": "quantitative", "scale": {"domain": [-9.282, 28.73], "nice": false, "zero": false}, "axis": null}}},
{"transform": [{"filter": "datum.i == 83"}],
 "mark": {"type": "text", "align": "right", "baseline": "middle", "dx": -22, "fontSize": 14, "color": "#000000"},
 "encoding": {"y": {"field": "h", "type": "quantitative", "scale": {"domain": [-9.282, 28.73], "nice": false, "zero": false}, "axis": null}, "text": {"field": "h", "format": ".2f"}}},
{"transform": [{"filter": "datum.i == 83"}],
 "mark": {"type": "rule", "color": "#000000", "strokeWidth": 1, "x2Offset": -16},
 "encoding": {"x2": {"field": "i"}, "y": {"field": "h", "type": "quantitative", "scale": {"domain": [-9.282, 28.73], "nice": false, "zero": false}, "axis": null}}},
{"transform": [{"filter": "datum.i == 0"}], "mark": {"type": "text", "text": "漫步者 2019/12/11", "align": "left", "baseline": "middle", "dx": 2, "fontSize": 14, "color": "#000000"},
 "encoding": {"x": {"datum": -0.973, "type": "quantitative"}, "y": {"datum": 28.38, "type": "quantitative", "scale": {"domain": [-9.282, 28.73], "nice": false, "zero": false}, "axis": null}}},
{"transform": [{"filter": "datum.i == 0"}], "mark": {"type": "text", "text": "开26.60↑", "align": "left", "baseline": "middle", "dx": 125, "fontSize": 14, "color": "#ff0000"},
 "encoding": {"x": {"datum": -0.973, "type": "quantitative"}, "y": {"datum": 28.38, "type": "quantitative", "scale": {"domain": [-9.282, 28.73], "nice": false, "zero": false}, "axis": null}}},
{"transform": [{"filter": "datum.i == 0"}], "mark": {"type": "text", "text": "高27.11↑", "align": "left", "baseline": "middle", "dx": 185, "fontSize": 14, "color": "#ff0000"},
 "encoding": {"x": {"datum": -0.973, "type": "quantitative"}, "y": {"datum": 28.38, "type": "quantitative", "scale": {"domain": [-9.282, 28.73], "nice": false, "zero": false}, "axis": null}}},
{"transform": [{"filter": "datum.i == 0"}], "mark": {"type": "text", "text": "低24.58↑", "align": "left", "baseline": "middle", "dx": 245, "fontSize": 14, "color": "#008000"},
 "encoding": {"x": {"datum": -0.973, "type": "quantitative"}, "y": {"datum": 28.38, "type": "quantitative", "scale": {"domain": [-9.282, 28.73], "nice": false, "zero": false}, "axis": null}}},
{"transform": [{"filter": "datum.i == 0"}], "mark": {"type": "text", "text": "收25.66↑", "align": "left", "baseline": "middle", "dx": 305, "fontSize": 14, "color": "#ff0000"},
 "encoding": {"x": {"datum": -0.973, "type": "quantitative"}, "y": {"datum": 28.38, "type": "quantitative", "scale": {"domain": [-9.282, 28.73], "nice": false, "zero": false}, "axis": null}}},
{"transform": [{"filter": "datum.i == 0"}], "mark": {"type": "text", "text": "量1192617↑", "align": "left", "baseline": "middle", "dx": 362, "fontSize": 14, "color": "#ff0000"},
 "encoding": {"x": {"datum": -0.973, "type": "quantitative"}, "y": {"datum": 28.38, "type": "quantitative", "scale": {"domain": [-9.282, 28.73], "nice": false, "zero": false}, "axis": null}}},
{"transform": [{"filter": "datum.i == 0"}], "mark": {"type": "text", "text": "额308461", "align": "left", "baseline": "middle", "dx": 439, "fontSize": 14, "color": "#ff0000"},
 "encoding": {"x": {"datum": -0.973, "type": "quantitative"}, "y": {"datum": 28.38, "type": "quantitative", "scale": {"domain": [-9.282, 28.73], "nice": false, "zero": false}, "axis": null}}},
{"transform": [{"filter": "datum.i == 0"}], "mark": {"type": "text", "text": "↑换40.94%", "align": "left", "baseline": "middle", "dx": 501, "fontSize": 14, "color": "#000000"},
 "encoding": {"x": {"datum": -0.973, "type": "quantitative"}, "y": {"datum": 28.38, "type": "quantitative", "scale": {"domain": [-9.282, 28.73], "nice": false, "zero": false}, "axis": null}}},
{"transform": [{"filter": "datum.i == 0"}], "mark": {"type": "text", "text": "振9.94%", "align": "left", "baseline": "middle", "dx": 578, "fontSize": 14, "color": "#000000"},
 "encoding": {"x": {"datum": -0.973, "type": "quantitative"}, "y": {"datum": 28.38, "type": "quantitative", "scale": {"domain": [-9.282, 28.73], "nice": false, "zero": false}, "axis": null}}},
{"transform": [{"filter": "datum.i == 0"}], "mark": {"type": "text", "text": "涨(0.22)0.86%↑", "align": "left", "baseline": "middle", "dx": 638, "fontSize": 14, "color": "#ff0000"},
 "encoding": {"x": {"datum": -0.973, "type": "quantitative"}, "y": {"datum": 28.38, "type": "quantitative", "scale": {"domain": [-9.282, 28.73], "nice": false, "zero": false}, "axis": null}}},
{"transform": [{"filter": "datum.i == 0"}], "mark": {"type": "text", "text": "MA(5,10,20,30,60,120,240,360,5)", "align": "left", "baseline": "middle", "dx": 2, "fontSize": 14, "color": "#000000"},
 "encoding": {"x": {"datum": -0.973, "type": "quantitative"}, "y": {"datum": 27.68, "type": "quantitative", "scale": {"domain": [-9.282, 28.73], "nice": false, "zero": false}, "axis": null}}},
{"transform": [{"filter": "datum.i == 0"}], "mark": {"type": "text", "text": "M1 22.876↑", "align": "left", "baseline": "middle", "dx": 227, "fontSize": 14, "color": "#000080"},
 "encoding": {"x": {"datum": -0.973, "type": "quantitative"}, "y": {"datum": 27.68, "type": "quantitative", "scale": {"domain": [-9.282, 28.73], "nice": false, "zero": false}, "axis": null}}},
{"transform": [{"filter": "datum.i == 0"}], "mark": {"type": "text", "text": "M2 19.420↑", "align": "left", "baseline": "middle", "dx": 309, "fontSize": 14, "color": "#ff00ff"},
 "encoding": {"x": {"datum": -0.973, "type": "quantitative"}, "y": {"datum": 27.68, "type": "quantitative", "scale": {"domain": [-9.282, 28.73], "nice": false, "zero": false}, "axis": null}}},
{"transform": [{"filter": "datum.i == 0"}], "mark": {"type": "text", "text": "M3 16.977↑", "align": "left", "baseline": "middle", "dx": 389, "fontSize": 14, "color": "#808080"},
 "encoding": {"x": {"datum": -0.973, "type": "quantitative"}, "y": {"datum": 27.68, "type": "quantitative", "scale": {"domain": [-9.282, 28.73], "nice": false, "zero": false}, "axis": null}}},
{"transform": [{"filter": "datum.i == 0"}], "mark": {"type": "text", "text": "M4 15.558↑", "align": "left", "baseline": "middle", "dx": 469, "fontSize": 14, "color": "#800000"},
 "encoding": {"x": {"datum": -0.973, "type": "quantitative"}, "y": {"datum": 27.68, "type": "quantitative", "scale": {"domain": [-9.282, 28.73], "nice": false, "zero": false}, "axis": null}}},
{"transform": [{"filter": "datum.i == 0"}], "mark": {"type": "text", "text": "M5 11.705↑", "align": "left", "baseline": "middle", "dx": 551, "fontSize": 14, "color": "#228b22"},
 "encoding": {"x": {"datum": -0.973, "type": "quantitative"}, "y": {"datum": 27.68, "type": "quantitative", "scale": {"domain": [-9.282, 28.73], "nice": false, "zero": false}, "axis": null}}},
{"mark": {"type": "bar", "size": 13.5, "strokeWidth": 2, "orient": "vertical"},
 "encoding": {"y": {"field": "v", "type": "quantitative", "scale": {"domain": [-3.54, 380.3], "nice": false, "zero": false},
   "axis": {"orient": "right", "values": [0,20,40,60,80,100], "format": ".1f", "labelColor": "#808080", "labelFontSize": 14, "labelFont": "Liberation Sans",
    "tickColor": "#808080", "tickSize": 4, "labelPadding": 8, "domain": false, "grid": false, "labelBaseline": "middle",
    "title": "X1万", "titleAngle": 0, "titleAlign": "left", "titleBaseline": "top", "titleX": 3, "titleY": 639, "titleColor": "#808080",
    "titleFontSize": 14, "titleFontWeight": "normal", "titleFont": "Liberation Sans, Noto Sans CJK SC"}},
  "y2": {"datum": 0},
  "fill": {"field": "vu", "type": "nominal", "scale": {"domain": ["up", "dn"], "range": ["#ffffff", "#008000"]}, "legend": null},
  "stroke": {"field": "vu", "type": "nominal", "scale": {"domain": ["up", "dn"], "range": ["#ff0000", "#008000"]}, "legend": null}}},
{"mark": {"type": "line", "color": "#800000", "strokeWidth": 2.5},
 "encoding": {"y": {"field": "v60", "type": "quantitative", "scale": {"domain": [-3.54, 380.3], "nice": false, "zero": false}, "axis": null}}},
{"mark": {"type": "line", "color": "#808080", "strokeWidth": 2},
 "encoding": {"y": {"field": "v10", "type": "quantitative", "scale": {"domain": [-3.54, 380.3], "nice": false, "zero": false}, "axis": null}}},
{"mark": {"type": "line", "color": "#ff00ff", "strokeWidth": 2},
 "encoding": {"y": {"field": "v5", "type": "quantitative", "scale": {"domain": [-3.54, 380.3], "nice": false, "zero": false}, "axis": null}}},
{"transform": [{"filter": "datum.i == 0"}], "mark": {"type": "rect", "cornerRadius": 16, "fillOpacity": 0, "stroke": "#ff0000", "strokeWidth": 4},
 "encoding": {"x": {"datum": 79.2, "type": "quantitative"}, "x2": {"datum": 86.1},
  "y": {"datum": 135.8, "type": "quantitative", "scale": {"domain": [-3.54, 380.3], "nice": false, "zero": false},
   "axis": {"orient": "left", "values": [129.9], "grid": true, "gridColor": "#8c8c8c", "gridWidth": 1.5, "labels": false, "ticks": false, "domain": false, "title": null}},
  "y2": {"datum": 1.2}}},
{"transform": [{"filter": "datum.i == 0"}], "mark": {"type": "rect", "fillOpacity": 0, "stroke": "#9a9a9a", "strokeWidth": 1},
 "encoding": {"x": {"datum": 87.1, "type": "quantitative"}, "x2": {"datum": 89.0},
  "y": {"datum": 129.6, "type": "quantitative", "scale": {"domain": [-3.54, 380.3], "nice": false, "zero": false}, "axis": null},
  "y2": {"datum": 123.0}}},
{"transform": [{"filter": "datum.i == 0"}], "mark": {"type": "text", "text": "VOL(5,10,60)", "align": "left", "baseline": "middle", "dx": 2, "fontSize": 13, "color": "#000000"},
 "encoding": {"x": {"datum": -0.973, "type": "quantitative"}, "y": {"datum": 125.6, "type": "quantitative", "scale": {"domain": [-3.54, 380.3], "nice": false, "zero": false}, "axis": null}}},
{"transform": [{"filter": "datum.i == 0"}], "mark": {"type": "text", "text": "量 1192616.625↑", "align": "left", "baseline": "middle", "dx": 98, "fontSize": 13, "color": "#000080"},
 "encoding": {"x": {"datum": -0.973, "type": "quantitative"}, "y": {"datum": 125.6, "type": "quantitative", "scale": {"domain": [-3.54, 380.3], "nice": false, "zero": false}, "axis": null}}},
{"transform": [{"filter": "datum.i == 0"}], "mark": {"type": "text", "text": "MA1 746194.688↑", "align": "left", "baseline": "middle", "dx": 215, "fontSize": 13, "color": "#ff00ff"},
 "encoding": {"x": {"datum": -0.973, "type": "quantitative"}, "y": {"datum": 125.6, "type": "quantitative", "scale": {"domain": [-3.54, 380.3], "nice": false, "zero": false}, "axis": null}}},
{"transform": [{"filter": "datum.i == 0"}], "mark": {"type": "text", "text": "MA2 712498.438↑", "align": "left", "baseline": "middle", "dx": 335, "fontSize": 13, "color": "#808080"},
 "encoding": {"x": {"datum": -0.973, "type": "quantitative"}, "y": {"datum": 125.6, "type": "quantitative", "scale": {"domain": [-3.54, 380.3], "nice": false, "zero": false}, "axis": null}}},
{"transform": [{"filter": "datum.i == 0"}], "mark": {"type": "text", "text": "MA3 438310.938↑", "align": "left", "baseline": "middle", "dx": 458, "fontSize": 13, "color": "#800000"},
 "encoding": {"x": {"datum": -0.973, "type": "quantitative"}, "y": {"datum": 125.6, "type": "quantitative", "scale": {"domain": [-3.54, 380.3], "nice": false, "zero": false}, "axis": null}}}
],
"resolve": {"scale": {"y": "independent", "fill": "independent", "stroke": "independent"}, "axis": {"y": "independent"}}
},
{
"width": 326, "height": 975,
"data": {"name": "panel"},
"encoding": {
 "x": {"field": "c", "type": "quantitative", "scale": {"domain": [0,1,2,3,4,5,6,7,8,9,10,11,12,13,14,15,16,17,18,19], "range": [3,153,162,318,43,166,167,305,163,24,66,109,152,195,238,281,73,243,309,326], "nice": false, "zero": false}, "axis": null},
 "y": {"field": "r", "type": "quantitative", "scale": {"domain": [-0.587, 43.41], "reverse": true, "nice": false, "zero": false},
  "axis": {"grid": true, "values": [0.451, 1.534, 6.587, 11.686, 17.687, 21.748, 40.61, 41.6, 42.55], "labels": false, "ticks": false, "domain": false, "title": null,
   "gridColor": "#808080", "gridWidth": 1, "gridDash": {"condition": {"test": "datum.value > 40 && datum.value < 42", "value": [1, 3]}, "value": []}}}
},
"layer": [
{"transform": [{"filter": "datum.r == 22 && datum.c == 7"}], "mark": {"type": "rule", "color": "#e6e6e6", "strokeWidth": 15},
 "encoding": {"x": {"datum": 18.5, "type": "quantitative"}, "y": {"datum": 21.8, "type": "quantitative"}, "y2": {"datum": 42.5}}},
{"transform": [{"filter": "datum.r == 22 && datum.c == 7"}], "mark": {"type": "rule", "color": "#c2c2c2", "strokeWidth": 13},
 "encoding": {"x": {"datum": 18.5, "type": "quantitative"}, "y": {"datum": 28.7, "type": "quantitative"}, "y2": {"datum": 41.7}}},
{"transform": [{"filter": "datum.c == 0 || datum.c == 2 || datum.c == 6"}],
 "mark": {"type": "text", "align": "left", "baseline": "middle", "fontSize": 16, "font": "Liberation Sans, Noto Sans CJK SC"},
 "encoding": {"text": {"field": "t"}, "color": {"field": "k", "type": "nominal", "scale": {"domain": ["b", "r", "g"], "range": ["#000000", "#e8101a", "#108a10"]}, "legend": null}}},
{"transform": [{"filter": "datum.c == 1 || datum.c == 3 || datum.c == 4 || datum.c == 5 || datum.c == 7"}],
 "mark": {"type": "text", "align": "right", "baseline": "middle", "fontSize": 16, "font": "Liberation Sans, Noto Sans CJK SC"},
 "encoding": {"text": {"field": "t"}, "color": {"field": "k", "type": "nominal", "scale": {"domain": ["b", "r", "g"], "range": ["#000000", "#e8101a", "#108a10"]}, "legend": null}}},
{"transform": [{"filter": "datum.c == 8"}],
 "mark": {"type": "text", "align": "center", "baseline": "middle", "fontSize": 16, "font": "Liberation Sans, Noto Sans CJK SC"},
 "encoding": {"text": {"field": "t"}, "color": {"field": "k", "type": "nominal", "scale": {"domain": ["b", "r", "g"], "range": ["#000000", "#e8101a", "#108a10"]}, "legend": null}}},
{"transform": [{"filter": "datum.c >= 9 && datum.c <= 15"}],
 "mark": {"type": "text", "align": "center", "baseline": "middle", "fontSize": 14, "font": "Noto Sans CJK SC"},
 "encoding": {"text": {"field": "t"}, "color": {"field": "k", "type": "nominal", "scale": {"domain": ["b", "r", "g"], "range": ["#000000", "#e8101a", "#108a10"]}, "legend": null}}},
{"transform": [{"filter": "datum.r == 18 && datum.c == 1"}], "mark": {"type": "point", "shape": "M -1 0 A 1 0.23 0 1 0 1 0 A 1 0.23 0 1 0 -1 0 Z", "size": 30625, "filled": false, "stroke": "#ff0000", "strokeWidth": 3.5, "opacity": 1},
 "encoding": {"x": {"datum": 16, "type": "quantitative"}, "y": {"datum": 18.2, "type": "quantitative"}}},
{"transform": [{"filter": "datum.r == 20 && datum.c == 3"}], "mark": {"type": "point", "shape": "M -1 0 A 1 0.23 0 1 0 1 0 A 1 0.23 0 1 0 -1 0 Z", "size": 28900, "filled": false, "stroke": "#ff0000", "strokeWidth": 3.5, "opacity": 1},
 "encoding": {"y": {"datum": 20.2, "type": "quantitative"}, "x": {"datum": 17, "type": "quantitative"}}}
]
}
],
"spacing": 56,
"bounds": "flush",
"resolve": {"scale": {"x": "independent", "y": "independent", "color": "independent", "fill": "independent", "stroke": "independent"}}
}
